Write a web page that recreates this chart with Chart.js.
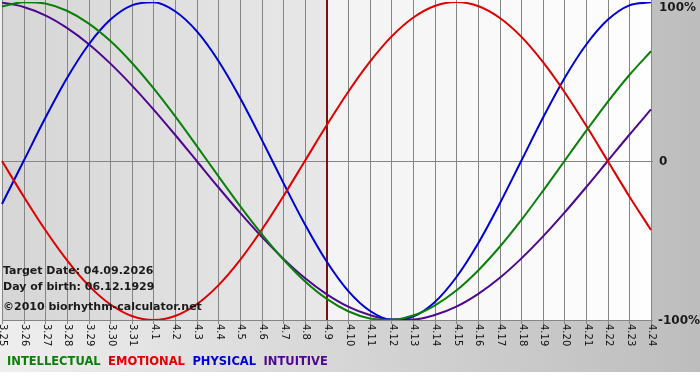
<!DOCTYPE html>
<html>
<head>
<meta charset="utf-8">
<script src="https://cdn.jsdelivr.net/npm/chart.js@4/dist/chart.umd.min.js"></script>
<style>
html,body{margin:0;padding:0;background:#fff;}
#wrap{width:700px;height:380px;position:relative;}
</style>
</head>
<body>
<div id="wrap"><canvas id="c" width="700" height="380"></canvas></div>
<script>
const days = ['3.25','3.26','3.27','3.28','3.29','3.30','3.31','4.1','4.2','4.3','4.4','4.5','4.6','4.7','4.8','4.9','4.10','4.11','4.12','4.13','4.14','4.15','4.16','4.17','4.18','4.19','4.20','4.21','4.22','4.23','4.24'];
const intellectual = [97.2,99.9,99.0,94.5,86.6,75.6,61.8,45.8,28.2,9.5,-9.5,-28.2,-45.8,-61.8,-75.6,-86.6,-94.5,-99.0,-99.9,-97.2,-90.9,-81.5,-69.0,-54.1,-37.2,-18.9,0,18.9,37.2,54.1,69.0];
const emotional = [0,-22.3,-43.4,-62.3,-78.2,-90.1,-97.5,-100,-97.5,-90.1,-78.2,-62.3,-43.4,-22.3,0,22.3,43.4,62.3,78.2,90.1,97.5,100,97.5,90.1,78.2,62.3,43.4,22.3,0,-22.3,-43.4];
const physical = [-27.0,0,27.0,52.0,73.1,88.8,97.9,99.8,94.2,81.7,63.1,39.8,13.6,-13.6,-39.8,-63.1,-81.7,-94.2,-99.8,-97.9,-88.8,-73.1,-52.0,-27.0,0,27.0,52.0,73.1,88.8,97.9,99.8];
const intuitive = [99.7,96.9,91.6,83.7,73.6,61.4,47.6,32.5,16.5,0,-16.5,-32.5,-47.6,-61.4,-73.6,-83.7,-91.6,-96.9,-99.7,-99.7,-96.9,-91.6,-83.7,-73.6,-61.4,-47.6,-32.5,-16.5,0,16.5,32.5];
const seriesNames = ['INTELLECTUAL','EMOTIONAL','PHYSICAL','INTUITIVE'];
const yTickValues = [100, 0, -100];
const yTickLabels = ['100%', '0', '-100%'];
const targetDay = '4.9';
const infoLines = ['Target Date: 04.09.2026', 'Day of birth: 06.12.1929', '\u00a92010 biorhythm-calculator.net'];

const colors = ['#0a800a', '#e00000', '#0000d8', '#4e0890'];
const FONT = '"DejaVu Sans", Verdana, sans-serif';

const bgPlugin = {
  id: 'bg',
  beforeDraw(chart) {
    const ctx = chart.ctx;
    const W = chart.width, H = chart.height;
    const a = chart.chartArea;
    const xs = chart.scales.x, ys = chart.scales.y;
    ctx.save();
    ctx.fillStyle = '#ffffff';
    ctx.fillRect(0, 0, W, H);
    let g = ctx.createLinearGradient(0, 0, W, 0);
    g.addColorStop(0, '#eeeeee');
    g.addColorStop(1, '#bdbdbd');
    ctx.fillStyle = g;
    ctx.fillRect(0, 0, W, 372);
    const tx = xs.getPixelForValue(days.indexOf(targetDay));
    g = ctx.createLinearGradient(a.left, 0, tx, 0);
    g.addColorStop(0, '#d6d6d6');
    g.addColorStop(1, '#e8e8e8');
    ctx.fillStyle = g;
    ctx.fillRect(a.left, a.top - 2, tx - a.left, a.bottom - a.top + 2);
    g = ctx.createLinearGradient(tx, 0, a.right, 0);
    g.addColorStop(0, '#f3f3f3');
    g.addColorStop(1, '#fefefe');
    ctx.fillStyle = g;
    ctx.fillRect(tx, a.top - 2, a.right - tx, a.bottom - a.top + 2);
    ctx.strokeStyle = '#858585';
    ctx.lineWidth = 1;
    for (let i = 0; i < days.length; i++) {
      const x = Math.round(xs.getPixelForValue(i)) + 0.5;
      ctx.beginPath();
      ctx.moveTo(x, 0);
      ctx.lineTo(x, a.bottom + 4);
      ctx.stroke();
    }
    const y0 = Math.round(ys.getPixelForValue(0)) + 0.5;
    ctx.beginPath();
    ctx.moveTo(a.left, y0); ctx.lineTo(a.right + 2, y0);
    ctx.stroke();
    const yb = Math.round(ys.getPixelForValue(-100)) + 0.5;
    ctx.beginPath();
    ctx.moveTo(a.left, yb); ctx.lineTo(a.right + 2, yb);
    ctx.stroke();
    ctx.strokeStyle = '#801010';
    ctx.lineWidth = 2;
    ctx.beginPath();
    ctx.moveTo(Math.round(tx), 0); ctx.lineTo(Math.round(tx), a.bottom);
    ctx.stroke();
    ctx.restore();
  },
  afterDatasetsDraw(chart) {
    const ctx = chart.ctx;
    const a = chart.chartArea;
    const xs = chart.scales.x, ys = chart.scales.y;
    ctx.save();
    ctx.fillStyle = '#111';
    ctx.font = '10px ' + FONT;
    ctx.textAlign = 'left';
    ctx.textBaseline = 'middle';
    for (let i = 0; i < days.length; i++) {
      const x = xs.getPixelForValue(i);
      ctx.save();
      ctx.translate(x + 1, a.bottom + 4);
      ctx.rotate(Math.PI / 2);
      ctx.fillText(days[i], 0, 0);
      ctx.restore();
    }
    ctx.font = 'bold 12px ' + FONT;
    ctx.fillStyle = '#1a1a1a';
    ctx.textBaseline = 'middle';
    const yOffsets = [6, 1, 1];
    const xPos = [659, 659, 658];
    for (let k = 0; k < yTickValues.length; k++) {
      ctx.fillText(yTickLabels[k], xPos[k], ys.getPixelForValue(yTickValues[k]) + yOffsets[k]);
    }
    ctx.font = 'bold 11px ' + FONT;
    ctx.fillStyle = '#1a1a1a';
    const infoY = [271, 287, 307];
    for (let k = 0; k < infoLines.length; k++) ctx.fillText(infoLines[k], 3, infoY[k]);
    ctx.font = 'bold 11.5px ' + FONT;
    let x = 7;
    for (let k = 0; k < seriesNames.length; k++) {
      ctx.fillStyle = colors[k];
      ctx.fillText(seriesNames[k], x, 362);
      x += ctx.measureText(seriesNames[k]).width + 7.5;
    }
    ctx.restore();
  }
};

new Chart(document.getElementById('c'), {
  type: 'line',
  data: {
    labels: days,
    datasets: [
      {label: seriesNames[0], data: intellectual},
      {label: seriesNames[1], data: emotional},
      {label: seriesNames[2], data: physical},
      {label: seriesNames[3], data: intuitive}
    ].map((d, k) => Object.assign(d, {
      borderColor: colors[k], backgroundColor: colors[k], borderWidth: 2,
      pointRadius: 0, cubicInterpolationMode: 'monotone', fill: false
    }))
  },
  options: {
    responsive: false,
    animation: false,
    layout: {padding: {left: 2, right: 49, top: 2, bottom: 60}},
    plugins: {legend: {display: false}, tooltip: {enabled: false}},
    scales: {
      x: {display: false, offset: false},
      y: {display: false, min: -100, max: 100}
    }
  },
  plugins: [bgPlugin]
});
</script>
</body>
</html>
